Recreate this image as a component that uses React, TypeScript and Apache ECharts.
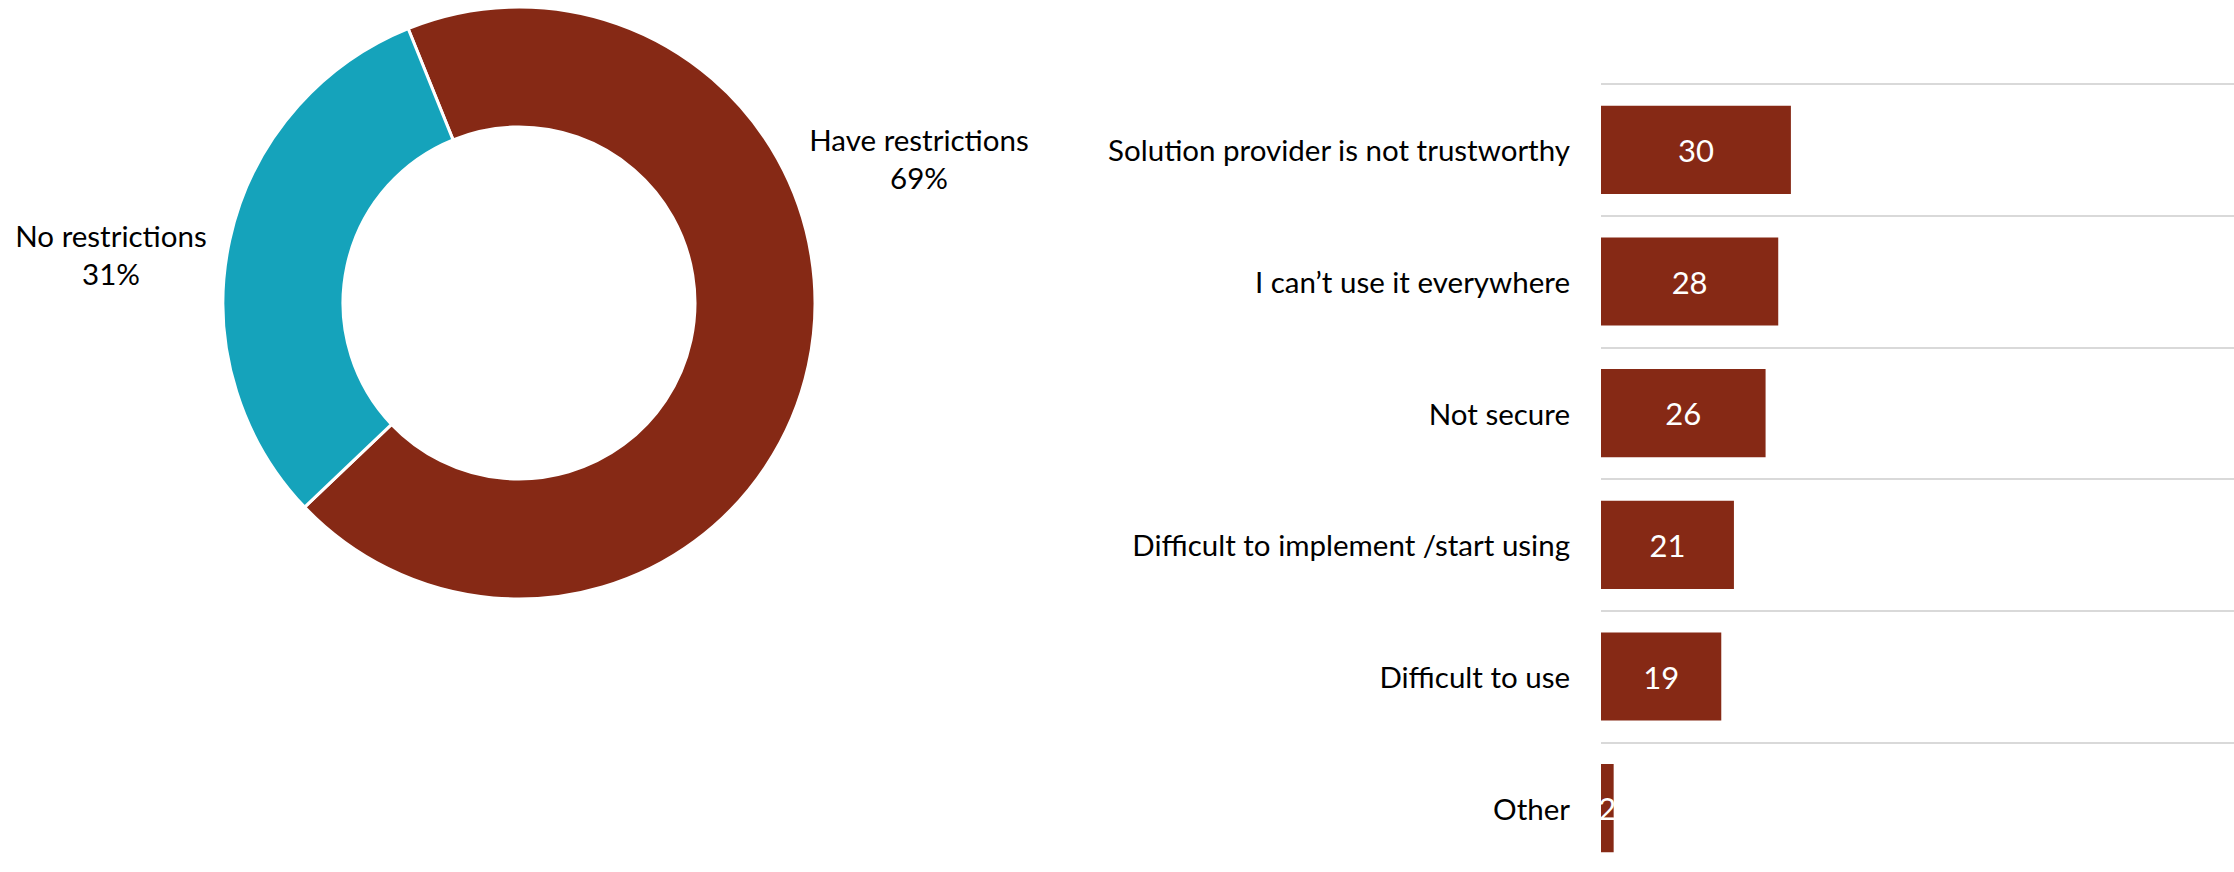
import React, { useEffect, useRef } from "react";
import * as echarts from "echarts";

const pieNames = ["Have restrictions", "No restrictions"];
const pieValues = [69, 31];
const pieColors = ["#862915", "#15A3BB"];

const barCategories = [
  "Solution provider is not trustworthy",
  "I can\u2019t use it everywhere",
  "Not secure",
  "Difficult to implement /start using",
  "Difficult to use",
  "Other",
];
const barValues = [30, 28, 26, 21, 19, 2];

const FONT = "Lato, 'Open Sans', sans-serif";

export default function App() {
  const ref = useRef<HTMLDivElement>(null);
  useEffect(() => {
    if (!ref.current) return;
    const chart = echarts.init(ref.current, null, { renderer: "svg" });
    const labelPos: Record<number, [number, number]> = {
      0: [919, 158],
      1: [111, 254],
    };
    chart.setOption({
      animation: false,
      backgroundColor: "#ffffff",
      textStyle: { fontFamily: FONT },
      grid: {
        left: 1601,
        top: 84,
        width: 633,
        height: 790,
        containLabel: false,
        outerBoundsMode: "none",
      },
      xAxis: {
        type: "value",
        min: 0,
        max: 100,
        show: false,
      },
      yAxis: {
        type: "category",
        data: barCategories,
        inverse: true,
        axisLine: { show: false },
        axisTick: { show: false },
        axisLabel: {
          margin: 31,
          fontSize: 29.5,
          color: "#000000",
          fontFamily: FONT,
        },
        splitLine: { show: true, lineStyle: { color: "#D9D9D9", width: 2 } },
      },
      series: [
        {
          type: "pie",
          center: [519, 303],
          radius: [176, 296],
          startAngle: 112,
          clockwise: true,
          itemStyle: { borderColor: "#ffffff", borderWidth: 3 },
          label: {
            show: true,
            position: "outside",
            formatter: (p: any) => `${p.name}\n${p.value}%`,
            fontSize: 29.5,
            lineHeight: 38,
            color: "#000000",
            fontFamily: FONT,
            align: "center",
            overflow: "none",
            edgeDistance: 0,
          },
          labelLine: { show: false },
          labelLayout: (params: any) => {
            const pos = labelPos[params.dataIndex];
            return { x: pos[0], y: pos[1], align: "center", verticalAlign: "middle" };
          },
          emphasis: { disabled: true },
          data: pieNames.map((n, i) => ({
            name: n,
            value: pieValues[i],
            itemStyle: { color: pieColors[i] },
          })),
        },
        {
          type: "bar",
          data: barValues,
          barCategoryGap: "33%",
          itemStyle: { color: "#862915" },
          label: {
            show: true,
            position: "inside",
            color: "#ffffff",
            fontSize: 31,
            fontFamily: FONT,
          },
          emphasis: { disabled: true },
        },
      ],
    });
    return () => chart.dispose();
  }, []);
  return (
    <div
      ref={ref}
      style={{ position: "fixed", left: 0, top: 0, width: 2234, height: 872 }}
    />
  );
}
